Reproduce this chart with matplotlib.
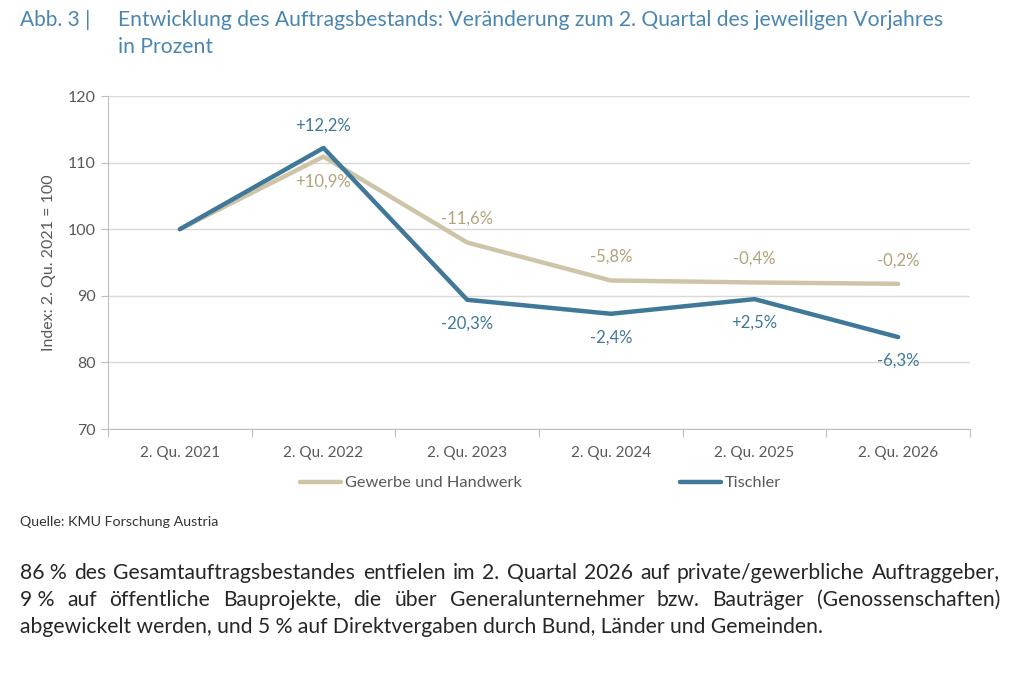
import matplotlib
matplotlib.use("Agg")
import matplotlib.pyplot as plt

plt.rcParams["font.family"] = ["Lato", "DejaVu Sans"]

quarters = ["2. Qu. 2021", "2. Qu. 2022", "2. Qu. 2023", "2. Qu. 2024", "2. Qu. 2025", "2. Qu. 2026"]
gewerbe = [100.0, 110.9, 98.0, 92.3, 92.0, 91.8]
tischler = [100.0, 112.2, 89.4, 87.3, 89.5, 83.8]
gewerbe_labels = [None, "+10,9%", "-11,6%", "-5,8%", "-0,4%", "-0,2%"]
tischler_labels = [None, "+12,2%", "-20,3%", "-2,4%", "+2,5%", "-6,3%"]
gewerbe_label_above = [None, False, True, True, True, True]
tischler_label_above = [None, True, False, False, False, False]
y_ticks = [70, 80, 90, 100, 110, 120]

# non-breaking space keeps "86 %" together when the lines are justified
body_lines = [
    "86\u00a0% des Gesamtauftragsbestandes entfielen im 2. Quartal 2026 auf private/gewerbliche Auftraggeber,",
    "9\u00a0% auf öffentliche Bauprojekte, die über Generalunternehmer bzw. Bauträger (Genossenschaften)",
    "abgewickelt werden, und 5\u00a0% auf Direktvergaben durch Bund, Länder und Gemeinden.",
]

C_GEW = "#CEC4A8"
C_GEW_TXT = "#B3A27A"
C_TIS = "#3F7898"
C_TITLE = "#4A86B2"
C_AXIS = "#595959"
C_GRID = "#D9D9D9"

W, H = 1024, 674
fig = plt.figure(figsize=(W / 100, H / 100), dpi=100)
ax = fig.add_axes([108 / W, 1 - 429 / H, (970 - 108) / W, (429 - 96) / H])

x = list(range(len(quarters)))
l_gew, = ax.plot(x, gewerbe, color=C_GEW, lw=3.2, solid_capstyle="round", label="Gewerbe und Handwerk", zorder=3)
l_tis, = ax.plot(x, tischler, color=C_TIS, lw=3.2, solid_capstyle="round", label="Tischler", zorder=4)

for xi, yv, lab, above in zip(x, gewerbe, gewerbe_labels, gewerbe_label_above):
    if lab:
        ax.annotate(lab, (xi, yv), xytext=(0, 17 if above else -18), textcoords="offset points",
                    ha="center", va="center", color=C_GEW_TXT, fontsize=12)
for xi, yv, lab, above in zip(x, tischler, tischler_labels, tischler_label_above):
    if lab:
        ax.annotate(lab, (xi, yv), xytext=(0, 16 if above else -17), textcoords="offset points",
                    ha="center", va="center", color=C_TIS, fontsize=12)

ax.set_xlim(-0.5, len(quarters) - 0.5)
ax.set_ylim(70, 120)
ax.set_yticks(y_ticks)
ax.grid(axis="y", color=C_GRID, lw=1)
ax.set_axisbelow(True)

ax.set_xticks([i - 0.5 for i in range(len(quarters) + 1)])
ax.set_xticklabels([])
ax.set_xticks(x, minor=True)
ax.set_xticklabels(quarters, minor=True)
ax.tick_params(axis="x", which="major", length=6, color="#BFBFBF", direction="out")
ax.tick_params(axis="x", which="minor", length=0, pad=12, labelsize=11, labelcolor=C_AXIS)
ax.tick_params(axis="y", length=5, color="#BFBFBF", labelsize=11.5, labelcolor=C_AXIS, pad=4)

for s in ["top", "right"]:
    ax.spines[s].set_visible(False)
for s in ["left", "bottom"]:
    ax.spines[s].set_color("#BFBFBF")

ax.set_ylabel("Index: 2. Qu. 2021 = 100", color=C_AXIS, fontsize=11.5, labelpad=8)

for handle, x_px in [(l_gew, 300), (l_tis, 680)]:
    fig.legend(handles=[handle], loc="center left", bbox_to_anchor=(x_px / W, 1 - 483 / H),
               frameon=False, fontsize=11.8, labelcolor=C_AXIS, handlelength=2.5,
               handletextpad=0.25, borderpad=0, borderaxespad=0)

fig.text(20 / W, 1 - 20 / H, "Abb. 3 |", color=C_TITLE, fontsize=15, va="center")
fig.text(118 / W, 1 - 20 / H, "Entwicklung des Auftragsbestands: Veränderung zum 2. Quartal des jeweiligen Vorjahres",
         color=C_TITLE, fontsize=15.2, va="center")
fig.text(118 / W, 1 - 47 / H, "in Prozent", color=C_TITLE, fontsize=15.2, va="center")

fig.text(20 / W, 1 - 522 / H, "Quelle: KMU Forschung Austria", color="#333333", fontsize=10.3, va="center")

# body text, justified lines except the last one
renderer = fig.canvas.get_renderer()
left_px, right_px = 20, 1000
line_y = [573, 600, 627]
for i, (line, ly) in enumerate(zip(body_lines, line_y)):
    yf = 1 - ly / H
    if i == len(body_lines) - 1:
        fig.text(left_px / W, yf, line, color="#262626", fontsize=15.2, va="center")
        continue
    words = line.split(" ")
    texts = [fig.text(0, yf, w, color="#262626", fontsize=15.2, va="center") for w in words]
    widths = [t.get_window_extent(renderer).width for t in texts]
    gap = (right_px - left_px - sum(widths)) / (len(words) - 1)
    xp = left_px
    for t, wd in zip(texts, widths):
        t.set_x(xp / W)
        xp += wd + gap

fig.savefig("out.png", dpi=100)
